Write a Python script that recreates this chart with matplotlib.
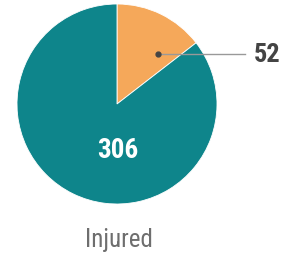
import numpy as np
import matplotlib
matplotlib.use("Agg")
import matplotlib.pyplot as plt
from matplotlib import font_manager

# -----------------------------
# Data
# -----------------------------
labels = ["Not injured", "Injured"]
values = [52, 306]
colors = ["#F5A85A", "#0E858B"]
title = "Injured"

names = {f.name for f in font_manager.fontManager.ttflist}
FONT = "Roboto Condensed" if "Roboto Condensed" in names else (
    "Liberation Sans Narrow" if "Liberation Sans Narrow" in names else "Roboto")

W, H = 289, 255
fig = plt.figure(figsize=(W / 100, H / 100), dpi=100)
ax = fig.add_axes([17 / W, (H - 205) / H, 200 / W, 200 / H])

wedges, _ = ax.pie(values, colors=colors, startangle=90, counterclock=False,
                   radius=1.0, wedgeprops=dict(edgecolor="white", linewidth=0.6))
ax.set_xlim(-1, 1)
ax.set_ylim(-1, 1)
ax.set_aspect("equal")
ax.axis("off")

# small slice: dot + leader line
w = wedges[0]
ang = np.deg2rad(w.theta2 - 0.75 * (w.theta2 - w.theta1))
dx, dy = 0.65 * np.cos(ang), 0.65 * np.sin(ang)
ax.plot([dx, 1.28], [dy, dy], color="#999999", lw=1, clip_on=False)
ax.plot(dx, dy, "o", color="#444444", ms=3.5, clip_on=False)
ax.text(1.37, dy, str(values[0]), ha="left", va="center", fontsize=19,
        fontweight="bold", color="#444444", family=FONT)

# big slice label
ax.text(0.01, -0.45, str(values[1]), ha="center", va="center", fontsize=19.5,
        fontweight="bold", color="white", family=FONT)

fig.text(119 / W, 1 - 240 / H, title, ha="center", va="center", fontsize=18,
         color="#6E6E6E", family=FONT)

fig.savefig("out.png", dpi=100)
